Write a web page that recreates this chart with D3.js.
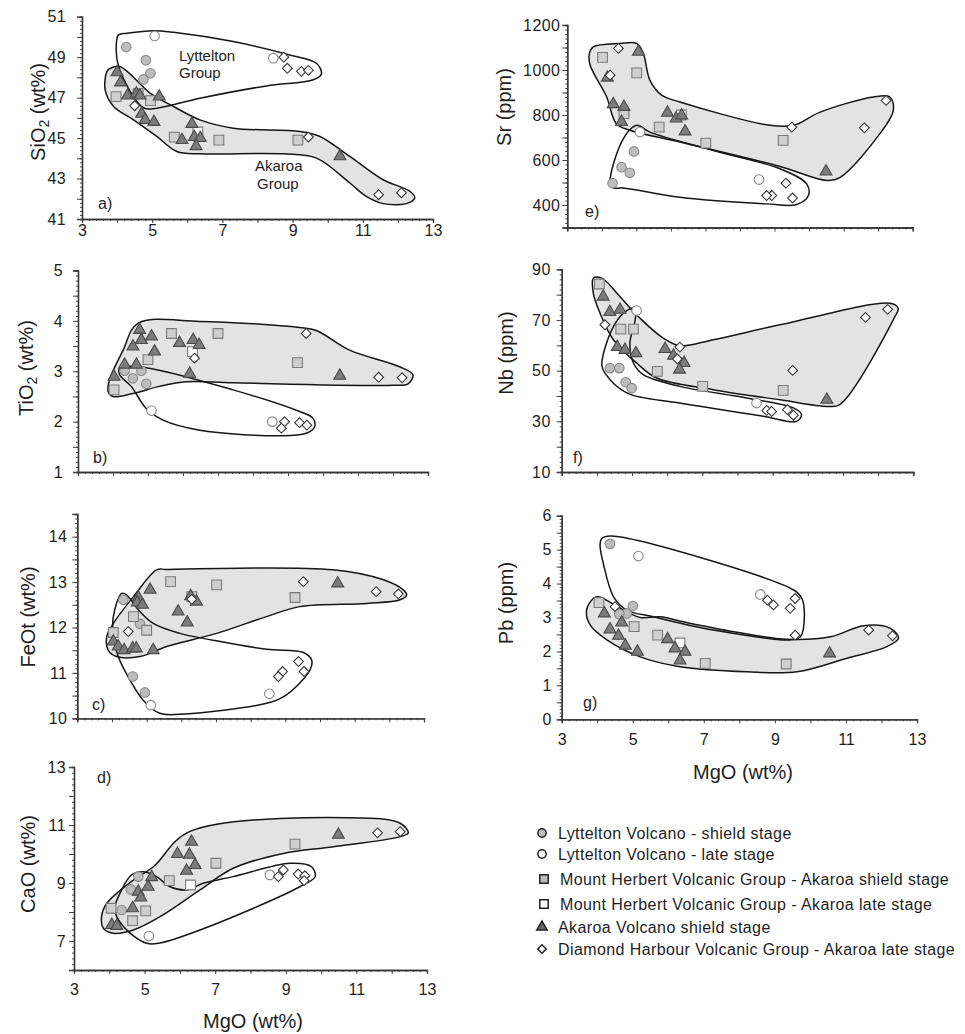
<!DOCTYPE html>
<html><head><meta charset="utf-8">
<script src="https://cdn.jsdelivr.net/npm/d3@7"></script>
<style>
body{margin:0;background:#fff}
text{font-family:"Liberation Sans",Arial,sans-serif;fill:#1e1e1e}
</style></head>
<body><svg id="c" width="965" height="1034"></svg>
<script>
// ---------------- DATA ----------------
const seriesNames = [
  "Lyttelton Volcano - shield stage",
  "Lyttelton Volcano - late stage",
  "Mount Herbert Volcanic Group - Akaroa shield stage",
  "Mount Herbert Volcanic Group - Akaroa late stage",
  "Akaroa Volcano shield stage",
  "Diamond Harbour Volcanic Group - Akaroa late stage"
];
const xTickLabels = [3,5,7,9,11,13];

// a) SiO2 vs MgO
const a_LS  = [[4.26,49.5],[4.82,48.85],[4.95,48.2],[4.75,47.9]];
const a_LL  = [[5.07,50.05],[8.45,48.95]];
const a_MHS = [[3.97,47.05],[4.6,47.2],[4.95,46.85],[5.63,45.05],[6.9,44.9],[9.15,44.9]];
const a_MHL = [[6.3,45.3]];
const a_AS  = [[4.0,48.25],[4.1,47.75],[4.3,47.1],[4.55,47.2],[4.65,47.1],[5.2,47.05],[4.7,46.2],[4.8,45.9],[5.05,45.8],[5.85,44.9],[6.13,45.7],[6.2,45.05],[6.37,45.0],[6.25,44.6],[10.35,44.1]];
const a_DH  = [[4.5,46.6],[8.75,49.0],[8.85,48.45],[9.25,48.3],[9.45,48.35],[9.45,45.05],[11.45,42.2],[12.1,42.3]];
const a_envAk = [[3.81,48.45],[4.09,48.53],[4.94,47.22],[5.61,46.56],[6.36,45.9],[7.31,45.49],[9.21,45.33],[9.78,45.08],[10.63,44.09],[11.58,42.94],[12.34,42.37],[12.48,42.04],[12.24,41.76],[11.58,41.76],[11.1,42.12],[10.63,42.78],[9.68,44.01],[8.73,44.22],[6.36,44.22],[5.7,44.34],[5.13,45.08],[4.47,45.9],[3.9,46.56],[3.66,47.38],[3.71,48.29]];
const a_envLy = [[4.04,50.1],[4.28,50.18],[5.04,50.31],[5.61,50.23],[7.31,49.77],[8.92,49.11],[9.68,48.7],[9.82,48.17],[9.59,47.88],[8.26,47.58],[6.36,46.97],[5.13,46.48],[4.75,46.5],[4.05,48.5],[3.98,49.7]];
const a_yTicks = [41,43,45,47,49,51];

// b) TiO2 vs MgO
const b_LS  = [[4.33,3.01],[4.57,2.86],[4.81,3.01],[4.95,2.75]];
const b_LL  = [[5.1,2.22],[8.55,2.0]];
const b_MHS = [[4.03,2.63],[5.67,3.75],[7.0,3.75],[5.0,3.23],[9.27,3.17]];
const b_MHL = [[6.27,3.39]];
const b_AS  = [[4.76,3.82],[4.81,3.62],[5.1,3.69],[4.57,3.49],[5.19,3.39],[5.9,3.56],[6.29,3.62],[6.46,3.52],[6.19,2.95],[10.48,2.91],[4.03,2.89],[4.33,3.13],[4.67,3.13]];
const b_DH  = [[6.33,3.26],[9.52,3.75],[11.59,2.88],[12.26,2.87],[8.9,2.0],[8.81,1.87],[9.33,1.98],[9.54,1.93]];
const b_envAk = [[4.71,3.95],[6.48,3.99],[9.33,3.87],[9.81,3.81],[10.76,3.42],[12.19,3.09],[12.57,2.93],[12.43,2.75],[12.0,2.72],[7.43,2.77],[6.1,2.79],[5.33,2.7],[4.57,2.56],[4.0,2.5],[3.86,2.6],[3.9,2.83],[4.29,3.42]];
const b_envLy = [[4.19,3.06],[4.76,3.09],[7.43,2.63],[9.33,2.2],[9.71,2.07],[9.76,1.9],[9.52,1.77],[8.76,1.72],[6.48,1.83],[5.43,2.03],[4.95,2.26],[4.52,2.7],[4.19,2.93]];
const b_yTicks = [1,2,3,4,5];

// c) FeOt vs MgO
const c_LS  = [[4.33,12.61],[4.81,12.08],[4.6,10.92],[4.95,10.57]];
const c_LL  = [[5.12,10.29],[8.54,10.54]];
const c_MHS = [[5.69,13.01],[7.02,12.94],[9.28,12.66],[4.62,12.24],[5.0,11.94],[4.04,11.89],[6.3,12.68]];
const c_MHL = [];
const c_AS  = [[5.1,12.83],[4.76,12.66],[4.73,12.55],[4.88,12.5],[5.91,12.35],[6.17,12.11],[6.27,12.69],[6.44,12.57],[10.51,12.97],[4.04,11.69],[4.18,11.58],[4.35,11.5],[4.6,11.54],[4.7,11.54],[5.19,11.5]];
const c_DH  = [[4.47,11.91],[6.3,12.62],[9.52,13.01],[11.62,12.79],[12.26,12.74],[9.38,11.25],[9.54,11.03],[8.92,11.03],[8.8,10.92]];
const c_envAk = [[5.29,13.27],[5.58,13.28],[10.38,13.27],[11.83,13.05],[12.4,12.83],[12.5,12.72],[12.31,12.61],[11.35,12.53],[9.42,12.46],[8.46,12.24],[7.02,11.87],[5.58,11.58],[4.81,11.36],[4.13,11.36],[3.89,11.5],[3.85,11.8],[4.04,12.09],[4.62,12.68]];
const c_envLy = [[4.42,12.72],[4.28,12.75],[4.04,12.24],[4.04,11.8],[4.18,11.36],[4.52,10.84],[4.9,10.4],[5.38,10.11],[5.96,10.09],[8.46,10.33],[9.0,10.5],[9.71,11.06],[9.76,11.28],[9.52,11.45],[8.46,11.52],[6.92,11.72],[5.96,11.87],[5.19,12.09],[4.76,12.39]];
const c_yTicks = [10,11,12,13,14];

// d) CaO vs MgO
const d_LS  = [[4.82,9.22],[4.61,8.78],[4.35,8.07]];
const d_LL  = [[5.12,7.17],[8.55,9.28]];
const d_MHS = [[7.02,9.68],[9.26,10.34],[5.7,9.08],[4.05,8.13],[5.03,8.04],[4.66,7.7]];
const d_MHL = [[6.3,8.93]];
const d_AS  = [[6.33,10.42],[5.93,10.0],[6.27,9.97],[6.43,9.62],[6.19,9.42],[10.49,10.66],[5.2,9.2],[5.1,8.87],[4.82,8.7],[4.89,8.5],[4.66,8.13],[4.07,7.55],[4.21,7.52]];
const d_DH  = [[11.6,10.73],[12.24,10.77],[8.93,9.45],[8.79,9.22],[9.35,9.31],[9.54,9.25],[9.52,9.08]];
const d_envAk = [[6.27,10.77],[11.39,11.23],[12.24,11.06],[12.47,10.73],[12.24,10.6],[10.35,10.25],[8.93,10.02],[7.51,9.51],[6.57,8.76],[5.44,7.84],[4.68,7.38],[4.11,7.27],[3.83,7.44],[3.78,7.84],[3.93,8.3],[4.68,9.1],[5.25,9.56]];
const d_envLy = [[4.21,7.84],[4.59,7.27],[5.06,6.92],[5.39,6.92],[6.57,7.38],[9.4,8.87],[9.83,9.22],[9.73,9.56],[9.12,9.68],[7.51,9.22],[6.66,8.99],[6.19,8.76],[5.72,8.87],[5.34,9.22],[4.96,9.39],[4.63,9.28],[4.3,8.64],[4.16,8.18]];
const d_yTicks = [7,9,11,13];

// e) Sr vs MgO
const e_LS  = [[4.93,638],[4.57,568],[4.81,543],[4.31,497]];
const e_LL  = [[5.1,724],[8.55,513]];
const e_MHS = [[4.02,1056],[5.01,987],[4.64,806],[5.66,746],[7.01,675],[9.25,687]];
const e_MHL = [[6.3,800]];
const e_AS  = [[5.06,1081],[4.16,966],[4.33,848],[4.64,836],[4.57,769],[5.9,810],[6.15,784],[6.31,798],[6.41,727],[10.49,549]];
const e_DH  = [[4.48,1096],[4.24,977],[9.5,746],[11.6,743],[12.23,865],[9.33,497],[8.92,442],[8.77,442],[9.52,431]];
const e_envAk = [[3.75,1103],[4.52,1118],[5.01,1118],[5.2,1074],[5.39,955],[5.73,888],[6.26,858],[8.87,754],[9.55,754],[10.32,813],[11.86,880],[12.34,880],[12.44,821],[12.05,717],[10.9,523],[10.51,509],[9.16,571],[6.26,680],[4.81,732],[4.42,761],[4.14,880],[3.66,1022],[3.64,1074]];
const e_envLy = [[5.01,754],[4.62,694],[4.24,501],[4.33,476],[4.62,476],[6.26,434],[8.77,405],[9.64,402],[9.98,442],[9.93,494],[9.16,561],[7.23,642],[5.39,724]];
const e_yTicks = [400,600,800,1000,1200];

// f) Nb vs MgO
const f_LS  = [[4.37,51.0],[4.64,51.0],[4.82,45.4],[4.99,43.1]];
const f_LL  = [[5.13,73.7],[8.54,37.2]];
const f_MHS = [[4.07,84.2],[4.68,66.4],[5.04,66.4],[5.72,49.7],[7.01,43.8],[9.3,42.2]];
const f_MHL = [];
const f_AS  = [[4.18,79.2],[4.37,73.1],[4.66,74.0],[4.58,59.3],[4.8,58.2],[5.11,56.9],[5.94,58.5],[6.18,55.9],[6.48,53.0],[6.35,50.4],[10.54,38.5]];
const f_DH  = [[4.23,68.1],[6.36,59.3],[6.29,54.6],[9.57,50.1],[11.64,71.0],[12.27,74.2],[8.83,34.3],[8.97,33.9],[9.42,34.6],[9.59,32.4]];
const f_envAk = [[3.9,86.5],[4.14,86.5],[4.66,79.2],[5.13,72.0],[5.89,62.8],[6.36,59.8],[7.31,62.2],[9.21,68.1],[12.34,76.6],[12.57,74.6],[12.48,71.4],[10.91,36.6],[10.54,35.9],[9.21,38.5],[7.31,42.5],[5.7,47.1],[5.13,53.0],[4.47,62.2],[4.09,72.7],[3.9,80.5]];
const f_envLy = [[5.09,74.6],[4.85,73.7],[4.47,67.4],[4.14,52.3],[4.23,49.0],[4.85,41.2],[6.36,37.2],[8.73,32.0],[9.68,30.0],[9.82,32.6],[9.59,35.3],[8.26,39.2],[6.36,43.8],[5.32,48.4],[5.04,53.0],[4.94,60.9],[5.09,70.0]];
const f_yTicks = [10,30,50,70,90];

// g) Pb vs MgO
const g_LS  = [[4.36,5.17],[5.0,3.34],[4.83,3.12],[4.62,3.1]];
const g_LL  = [[5.16,4.81],[8.59,3.68]];
const g_MHS = [[4.05,3.44],[5.04,2.73],[5.7,2.48],[7.04,1.65],[9.32,1.63]];
const g_MHL = [[6.33,2.25]];
const g_AS  = [[4.2,3.12],[4.36,2.65],[4.6,2.46],[4.69,2.85],[4.79,2.17],[5.13,1.99],[5.98,2.36],[6.19,2.09],[6.47,1.99],[6.33,1.73],[10.54,1.94]];
const g_DH  = [[8.79,3.51],[8.96,3.37],[9.57,3.56],[9.43,3.27],[9.57,2.48],[11.64,2.63],[12.31,2.46],[4.5,3.32]];
const g_envAk = [[3.89,3.56],[4.03,3.61],[4.74,3.22],[5.21,3.0],[5.77,3.02],[6.52,2.85],[8.02,2.55],[9.34,2.36],[10.56,2.43],[11.5,2.76],[12.25,2.68],[12.48,2.39],[12.15,2.14],[11.03,1.8],[9.62,1.4],[8.21,1.4],[6.33,1.55],[5.21,1.84],[4.27,2.34],[3.8,2.78],[3.7,3.22]];
const g_envLy = [[4.13,5.33],[4.41,5.4],[9.53,3.81],[9.76,3.56],[9.83,3.02],[9.72,2.43],[9.43,2.34],[7.27,2.63],[5.58,3.02],[4.83,3.22],[4.46,3.61],[4.17,4.6],[4.08,5.14]];
const g_yTicks = [0,1,2,3,4,5,6];

// ---------------- LAYOUT ----------------
const svg = d3.select("#c");
const FONT = "Liberation Sans, Arial, sans-serif";
const panels = [
  {id:"a", series:[a_LS,a_LL,a_MHS,a_MHL,a_AS,a_DH], envAk:a_envAk, envLy:a_envLy, yTicks:a_yTicks,
   yDom:[41,51], major:1, minor:0.2, box:[82,433,219,16.7], ypad:12, xLabels:true, xpad:4,
   title:["SiO","2"," (wt%)"], tx:38, ty:112, tag:[98,209]},
  {id:"b", series:[b_LS,b_LL,b_MHS,b_MHL,b_AS,b_DH], envAk:b_envAk, envLy:b_envLy, yTicks:b_yTicks,
   yDom:[1,5], major:0.5, minor:0.1, box:[78,428,472,270.5], ypad:11, xLabels:false,
   title:["TiO","2"," (wt%)"], tx:26, ty:368, tag:[93,463]},
  {id:"c", series:[c_LS,c_LL,c_MHS,c_MHL,c_AS,c_DH], envAk:c_envAk, envLy:c_envLy, yTicks:c_yTicks,
   yDom:[10,14.5], major:0.5, minor:0.1, box:[77.3,424,718.3,514], ypad:6, xLabels:false,
   title:["FeOt (wt%)"], tx:28, ty:617, tag:[92,710]},
  {id:"d", series:[d_LS,d_LL,d_MHS,d_MHL,d_AS,d_DH], envAk:d_envAk, envLy:d_envLy, yTicks:d_yTicks,
   yDom:[6,13], major:1, minor:0.2, box:[74,427,970,767], ypad:4, xLabels:true, xpad:12,
   title:["CaO (wt%)"], tx:28, ty:864, tag:[97,783], xTitle:[253,1028]},
  {id:"e", series:[e_LS,e_LL,e_MHS,e_MHL,e_AS,e_DH], envAk:e_envAk, envLy:e_envLy, yTicks:e_yTicks,
   yDom:[300,1200], major:100, minor:20, box:[567.3,912.7,227.5,25], ypad:3, xLabels:false,
   title:["Sr (ppm)"], tx:504, ty:107, tag:[585,217]},
  {id:"f", series:[f_LS,f_LL,f_MHS,f_MHL,f_AS,f_DH], envAk:f_envAk, envLy:f_envLy, yTicks:f_yTicks,
   yDom:[10,90], major:10, minor:2, box:[561.7,913.3,472,269.3], ypad:7, xLabels:false,
   title:["Nb (ppm)"], tx:506, ty:353, tag:[573,463]},
  {id:"g", series:[g_LS,g_LL,g_MHS,g_MHL,g_AS,g_DH], envAk:g_envAk, envLy:g_envLy, yTicks:g_yTicks,
   yDom:[0,6], major:0.5, minor:0.1, box:[561.7,917,719.3,515.7], ypad:6, xLabels:true, xpad:12,
   title:["Pb (ppm)"], tx:506, ty:603, tag:[583,708], xTitle:[743,779]}
];

const styles = [
  {type:"circle",   fill:"#bdbdbd", stroke:"#8a8a8a", size:72},
  {type:"circle",   fill:"#ffffff", stroke:"#8a8a8a", size:72},
  {type:"square",   fill:"#cfcfcf", stroke:"#7a7a7a", size:95},
  {type:"square",   fill:"#ffffff", stroke:"#7a7a7a", size:95},
  {type:"triangle", fill:"#7c7c7c", stroke:"#4a4a4a", size:62},
  {type:"diamond",  fill:"#ffffff", stroke:"#3a3a3a", size:48}
];
function symPath(st, scale){
  const t = st.type==="circle"?d3.symbolCircle:st.type==="triangle"?d3.symbolTriangle:d3.symbolSquare;
  return d3.symbol().type(t).size(st.size*(scale||1))();
}
function range(a,b,s){const r=[];for(let v=a;v<=b+1e-9;v+=s)r.push(+v.toFixed(4));return r;}
const fmt = d => String(d);

panels.forEach(p=>{
  const [x0,x1,yb,yt] = p.box;
  const x = d3.scaleLinear().domain([3,13]).range([x0,x1]);
  const y = d3.scaleLinear().domain(p.yDom).range([yb,yt]);
  const g = svg.append("g");
  const line = d3.line().x(d=>x(d[0])).y(d=>y(d[1])).curve(d3.curveCatmullRomClosed.alpha(0.5));
  g.append("path").attr("d",line(p.envLy)).attr("fill","#fff");
  g.append("path").attr("d",line(p.envAk)).attr("fill","#e3e3e3");
  g.append("path").attr("d",line(p.envLy)).attr("fill","none").attr("stroke","#161616").attr("stroke-width",1.5);
  g.append("path").attr("d",line(p.envAk)).attr("fill","none").attr("stroke","#161616").attr("stroke-width",1.5);

  const xMinor = d3.axisBottom(x).tickValues(range(3,13,0.2)).tickSize(2).tickFormat("");
  const yMinor = d3.axisLeft(y).tickValues(range(p.yDom[0],p.yDom[1],p.minor)).tickSize(2).tickFormat("");
  const xMaj = d3.axisBottom(x).tickValues(range(3,13,1)).tickSize(4).tickFormat("");
  const yMaj = d3.axisLeft(y).tickValues(range(p.yDom[0],p.yDom[1],p.major)).tickSize(5).tickFormat("");
  [[xMinor,"x"],[xMaj,"x"],[yMinor,"y"],[yMaj,"y"]].forEach(([ax,k])=>{
    const ga = g.append("g").attr("transform", k==="x"?`translate(0,${yb})`:`translate(${x0},0)`).call(ax);
    ga.select(".domain").attr("stroke","#333").attr("stroke-width",1.3);
    ga.selectAll(".tick line").attr("stroke","#444");
  });
  const yLab = d3.axisLeft(y).tickValues(p.yTicks).tickSize(0).tickPadding(p.ypad+4).tickFormat(fmt);
  const gy = g.append("g").attr("transform",`translate(${x0},0)`).call(yLab);
  gy.select(".domain").remove();
  gy.selectAll("text").attr("font-size",16).attr("letter-spacing","0.4px").attr("font-family",FONT).attr("fill","#1e1e1e");
  if(p.xLabels){
    const xLab = d3.axisBottom(x).tickValues(xTickLabels).tickSize(0).tickPadding(p.xpad+2).tickFormat(fmt);
    const gx = g.append("g").attr("transform",`translate(0,${yb})`).call(xLab);
    gx.select(".domain").remove();
    gx.selectAll("text").attr("font-size",16).attr("font-family",FONT).attr("fill","#1e1e1e");
  }
  const tt = g.append("text").attr("transform",`translate(${p.tx},${p.ty}) rotate(-90)`)
    .attr("text-anchor","middle").attr("dy","0.35em").attr("font-size",20);
  p.title.forEach((s,i)=>{
    const ts = tt.append("tspan").text(s);
    if(p.title.length===3 && i===1){ts.attr("font-size",14).attr("dy","0.3em");}
    if(p.title.length===3 && i===2){ts.attr("dy","-0.22em");}
  });
  if(p.xTitle){
    g.append("text").attr("x",p.xTitle[0]).attr("y",p.xTitle[1]).attr("text-anchor","middle")
      .attr("font-size",20).text("MgO (wt%)");
  }
  g.append("text").attr("x",p.tag[0]).attr("y",p.tag[1]).attr("font-size",16).text(p.id+")");

  p.series.forEach((data,si)=>{
    const st = styles[si];
    g.selectAll(null).data(data).join("path")
      .attr("d",symPath(st))
      .attr("transform",d=>`translate(${x(d[0])},${y(d[1])})${st.type==="diamond"?" rotate(45)":""}`)
      .attr("fill",st.fill).attr("stroke",st.stroke).attr("stroke-width",1.1);
  });

  if(p.id==="a"){
    const lab=[["Lyttelton",179,61],["Group",179,78],["Akaroa",255,171],["Group",257,189]];
    lab.forEach(l=>g.append("text").attr("x",l[1]).attr("y",l[2]).attr("font-size",15).text(l[0]));
  }
});

// legend
const legY = [833,854,879,904,927,949];
const lg = svg.append("g");
seriesNames.forEach((name,i)=>{
  const st = styles[i];
  lg.append("path").attr("d",symPath(st,0.75))
    .attr("transform",`translate(${i===2||i===3?544:542},${legY[i]})${st.type==="diamond"?" rotate(45)":""}`)
    .attr("fill", i===4?"#6a6a6a":(i===0||i===2)?"#bdbdbd":"#fff").attr("stroke","#222").attr("stroke-width",1.5);
  lg.append("text").attr("x",i===2||i===3?560:558).attr("y",legY[i]).attr("dy","0.35em")
    .attr("font-size",16).attr("letter-spacing","0.4px").text(name);
});
</script></body></html>
